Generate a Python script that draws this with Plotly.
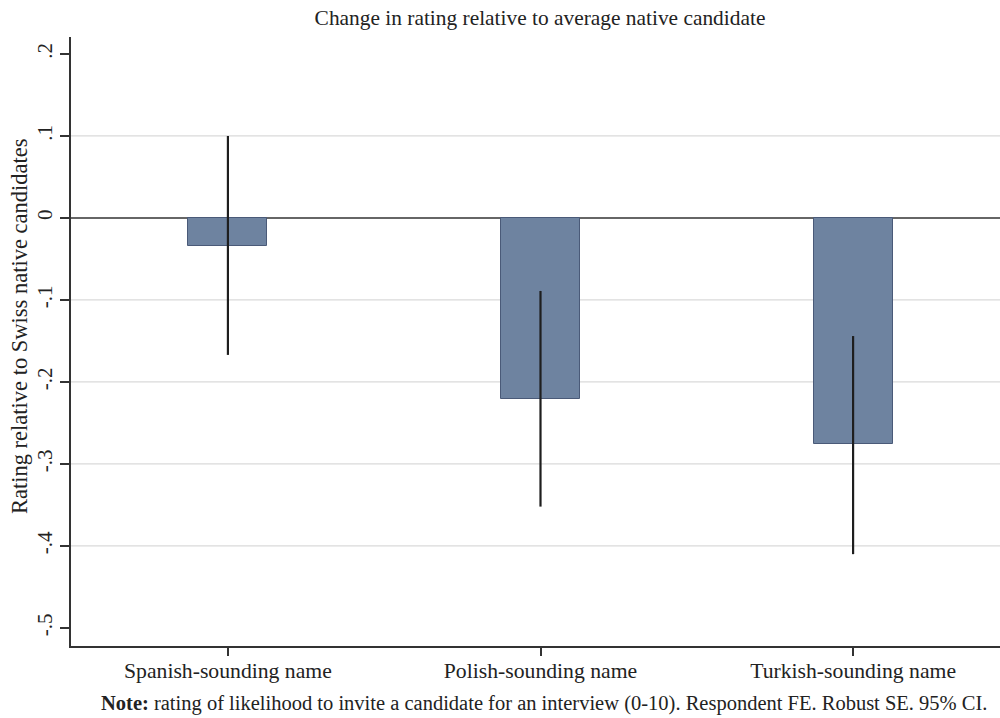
import plotly.graph_objects as go

categories = ["Spanish-sounding name", "Polish-sounding name", "Turkish-sounding name"]
estimates = [-0.034, -0.221, -0.276]
ci_low = [-0.167, -0.352, -0.410]
ci_high = [0.100, -0.089, -0.144]
y_ticks = [0.2, 0.1, 0.0, -0.1, -0.2, -0.3, -0.4, -0.5]
y_tick_labels = [".2", ".1", "0", "-.1", "-.2", "-.3", "-.4", "-.5"]
grid_values = [0.1, -0.1, -0.2, -0.3, -0.4]

err_plus = [h - e for h, e in zip(ci_high, estimates)]
err_minus = [e - l for e, l in zip(estimates, ci_low)]

FONT = "Liberation Serif, Times New Roman, serif"
COL = "#222222"

fig = go.Figure()
fig.add_trace(go.Bar(
    x=categories, y=estimates, width=0.253,
    marker=dict(color="#6e83a0", line=dict(color="#4a5a78", width=1)),
    error_y=dict(type="data", symmetric=False, array=err_plus, arrayminus=err_minus,
                 width=0, thickness=2.2, color="#1e1e1e"),
    showlegend=False,
))

shapes = []
for g in grid_values:
    shapes.append(dict(type="line", xref="paper", yref="y", x0=0, x1=1, y0=g, y1=g,
                       line=dict(color="#dadada", width=1.2), layer="below"))
shapes.append(dict(type="line", xref="paper", yref="y", x0=0, x1=1, y0=0, y1=0,
                   line=dict(color="#333333", width=1.5), layer="below"))

PW, PH = 929, 609  # plot area size in px

fig.update_layout(
    width=1000, height=718,
    margin=dict(l=71, r=0, t=37, b=72),
    paper_bgcolor="white", plot_bgcolor="white",
    font=dict(family=FONT, size=21, color=COL),
    title=dict(text="Change in rating relative to average native candidate",
               x=0.54, xref="container", xanchor="center",
               y=1 - 18 / 718, yref="container", yanchor="middle",
               font=dict(family=FONT, size=21.4, color=COL)),
    shapes=shapes,
    bargap=0,
    annotations=[
        dict(text="<b>Note:</b> rating of likelihood to invite a candidate for an interview (0-10). Respondent FE. Robust SE. 95% CI.",
             xref="paper", yref="paper", x=(544 - 71) / PW, y=0, yshift=-57,
             xanchor="center", yanchor="middle", showarrow=False,
             font=dict(family=FONT, size=20.5, color=COL)),
        dict(text="Rating relative to Swiss native candidates", textangle=-90,
             xref="paper", yref="paper", x=0, xshift=19 - 71,
             y=(646 - 326) / PH, xanchor="center", yanchor="middle", showarrow=False,
             font=dict(family=FONT, size=22.5, color=COL)),
    ],
)
fig.update_xaxes(
    range=[-0.502, 2.47], showgrid=False, zeroline=False, automargin=False,
    showline=True, linecolor="#333333", linewidth=1.5,
    ticks="outside", ticklen=8, tickcolor="#333333", tickwidth=1.5,
    ticklabelstandoff=-4,
    tickfont=dict(family=FONT, size=21.7, color=COL),
)
fig.update_yaxes(
    range=[-0.522, 0.2207], tickvals=y_ticks, ticktext=y_tick_labels,
    showgrid=False, zeroline=False, automargin=False,
    showline=True, linecolor="#333333", linewidth=1.5,
    ticks="outside", ticklen=9, tickcolor="#333333", tickwidth=1.5,
    tickangle=-90, ticklabelstandoff=0,
    tickfont=dict(family=FONT, size=21, color=COL),
)

fig.write_html("out.html", config={"displayModeBar": False},
               post_script="document.body.style.margin='0';document.body.style.overflow='hidden';")
